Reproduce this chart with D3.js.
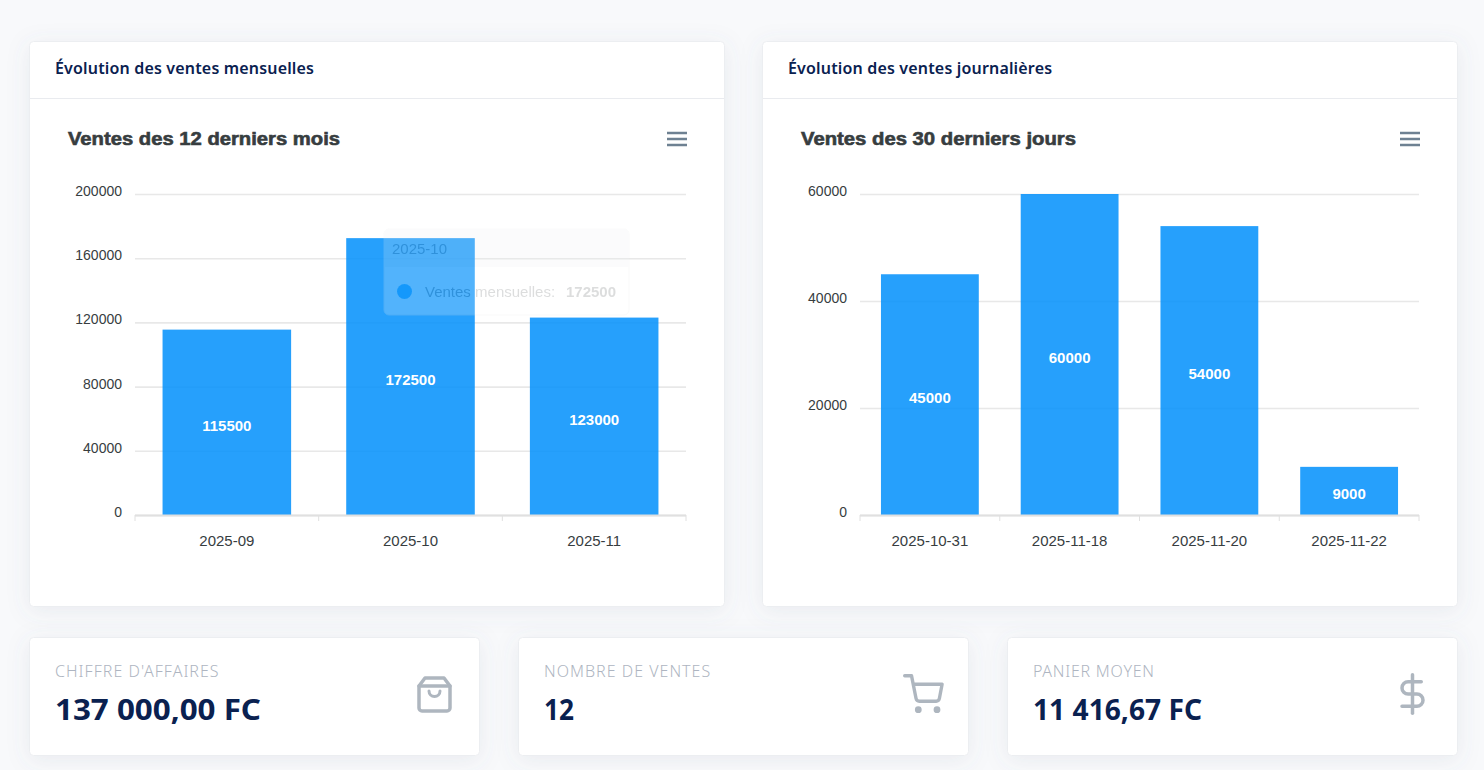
<!DOCTYPE html>
<html lang="fr">
<head>
<meta charset="utf-8">
<title>Tableau de bord des ventes</title>
<script src="https://cdnjs.cloudflare.com/ajax/libs/d3/7.9.0/d3.min.js"></script>
<style>
html, body { margin: 0; padding: 0; background: #f8f9fb; overflow: hidden; }
svg { display: block; }
.ui { font-family: "Noto Sans", sans-serif; }
.chart text { font-family: "Liberation Sans", Arial, sans-serif; }
</style>
</head>
<body>
<div id="root"></div>
<script>
// Monthly sales
const monthCategories = ["2025-09", "2025-10", "2025-11"];
const monthValues = [115500, 172500, 123000];
const monthTicks = [0, 40000, 80000, 120000, 160000, 200000];

// Daily sales
const dayCategories = ["2025-10-31", "2025-11-18", "2025-11-20", "2025-11-22"];
const dayValues = [45000, 60000, 54000, 9000];
const dayTicks = [0, 20000, 40000, 60000];

// Summary figures
const kpiLabels = ["CHIFFRE D'AFFAIRES", "NOMBRE DE VENTES", "PANIER MOYEN"];
const kpiValues = ["137 000,00 FC", "12", "11 416,67 FC"];

const W = 1484, H = 770;
const svg = d3.select("#root").append("svg").attr("width", W).attr("height", H);

const defs = svg.append("defs");
const shadow = defs.append("filter").attr("id", "cardShadow")
  .attr("x", "-10%").attr("y", "-15%").attr("width", "120%").attr("height", "135%");
shadow.append("feDropShadow").attr("dx", 0).attr("dy", 4).attr("stdDeviation", 11)
  .attr("flood-color", "#5a6a85").attr("flood-opacity", 0.10);

function card(x, y, w, h) {
  svg.append("rect").attr("x", x - .5).attr("y", y - .5).attr("width", w + 1).attr("height", h + 1)
    .attr("rx", 4).attr("fill", "#fff").attr("stroke", "#eceef1").attr("filter", "url(#cardShadow)");
}

function panel(x, y, w, h, heading) {
  card(x, y, w, h);
  svg.append("line").attr("x1", x).attr("x2", x + w).attr("y1", 98.5).attr("y2", 98.5).attr("stroke", "#e9ebef");
  svg.append("text").attr("class", "ui").attr("x", x + 25).attr("y", 74)
    .attr("font-size", 16).attr("font-weight", 600).attr("letter-spacing", 0.17)
    .attr("fill", "#0a2150").text(heading);
}

function barChart(opts) {
  const g = svg.append("g").attr("class", "chart");
  const { left, right, top, bottom, max, ticks, categories, values, title, labelRight, tickShift } = opts;

  const x = d3.scaleBand().domain(categories).range([left, right]).paddingInner(0).paddingOuter(0);
  const y = d3.scaleLinear().domain([0, max]).range([bottom, top]);

  // Horizontal grid
  const grid = g.append("g").attr("transform", `translate(${left},0)`)
    .call(d3.axisRight(y).tickValues(ticks).tickSize(right - left).tickFormat(""));
  grid.select(".domain").remove();
  grid.selectAll("line").attr("stroke", "#e8e8e8").attr("stroke-width", 1.6);

  // Value axis labels
  const yAxis = g.append("g").attr("transform", `translate(${labelRight},0)`)
    .call(d3.axisLeft(y).tickValues(ticks).tickSize(0).tickPadding(0).tickFormat(d3.format("d")));
  yAxis.select(".domain").remove();
  yAxis.selectAll("text").attr("font-size", 14).attr("fill", "#373d3f").attr("dy", tickShift);

  // Bars
  const barW = x.bandwidth() * 0.7;
  g.selectAll("rect.bar").data(values).join("rect").attr("class", "bar")
    .attr("x", (d, i) => x(categories[i]) + (x.bandwidth() - barW) / 2)
    .attr("width", barW)
    .attr("y", d => y(d))
    .attr("height", d => y(0) - y(d))
    .attr("fill", "#008ffb").attr("fill-opacity", 0.85);

  // Category axis with ticks on the band edges
  const xAxis = g.append("g").attr("transform", `translate(0,${bottom})`)
    .call(d3.axisBottom(x).tickSize(0).tickPadding(20));
  xAxis.select(".domain").remove();
  xAxis.selectAll("text").attr("font-size", 15).attr("fill", "#373d3f").attr("dy", "0.71em");
  g.append("line").attr("x1", left).attr("x2", right).attr("y1", bottom + .5).attr("y2", bottom + .5)
    .attr("stroke", "#e0e0e0").attr("stroke-width", 2);
  const edges = categories.map(c => x(c)).concat(right);
  g.selectAll("line.edge").data(edges).join("line").attr("class", "edge")
    .attr("x1", d => d).attr("x2", d => d).attr("y1", bottom).attr("y2", bottom + 6)
    .attr("stroke", "#e0e0e0");

  // Value labels inside the bars
  g.selectAll("text.value").data(values).join("text").attr("class", "value")
    .attr("x", (d, i) => x(categories[i]) + x.bandwidth() / 2)
    .attr("y", d => (y(d) + y(0)) / 2 + 8.5)
    .attr("text-anchor", "middle").attr("font-size", 15).attr("font-weight", 700)
    .attr("fill", "#fff").text(d => d);

  // Chart title, set wide and heavy
  g.append("text").attr("x", opts.titleX).attr("y", 145)
    .attr("font-size", 18).attr("font-weight", 700).attr("fill", "#373d3f")
    .attr("stroke", "#373d3f").attr("stroke-width", 0.6)
    .attr("textLength", opts.titleWidth).attr("lengthAdjust", "spacingAndGlyphs").text(title);

  // Toolbar menu glyph
  g.selectAll("line.menu").data([-6, 0, 6]).join("line").attr("class", "menu")
    .attr("x1", right - 19).attr("x2", right + 1)
    .attr("y1", d => 139 + d).attr("y2", d => 139 + d)
    .attr("stroke", "#6e8192").attr("stroke-width", 2.5);

  return { x, y, g };
}

panel(30, 42, 694, 564, "Évolution des ventes mensuelles");
panel(763, 42, 694, 564, "Évolution des ventes journalières");

barChart({
  left: 135, right: 686, top: 194, bottom: 515, max: 200000, ticks: monthTicks,
  categories: monthCategories, values: monthValues, title: "Ventes des 12 derniers mois",
  labelRight: 122, tickShift: "0.1em", titleX: 68, titleWidth: 272
});
barChart({
  left: 860, right: 1419, top: 194, bottom: 515, max: 60000, ticks: dayTicks,
  categories: dayCategories, values: dayValues, title: "Ventes des 30 derniers jours",
  labelRight: 847, tickShift: "0.12em", titleX: 801, titleWidth: 275
});

// Hover tooltip fading out above the October bar
(function tooltip() {
  const tx = 384, ty = 229, tw = 245, th = 86;
  const t = svg.append("g").attr("class", "chart").attr("opacity", 0.2);
  t.append("rect").attr("x", tx).attr("y", ty).attr("width", tw).attr("height", th).attr("rx", 5)
    .attr("fill", "#fff").attr("stroke", "#e3e3e3");
  t.append("path").attr("d", `M${tx} ${ty + 38}V${ty + 5}a5 5 0 0 1 5 -5H${tx + tw - 5}a5 5 0 0 1 5 5V${ty + 38}Z`)
    .attr("fill", "#eceff1");
  t.append("text").attr("x", tx + 8).attr("y", ty + 25).attr("font-size", 15).attr("fill", "#555a5c")
    .text(monthCategories[1]);
  t.append("text").attr("x", tx + 41).attr("y", ty + 68).attr("font-size", 15).attr("fill", "#555a5c")
    .text("Ventes mensuelles:");
  t.append("text").attr("x", tx + 182).attr("y", ty + 68).attr("font-size", 15).attr("font-weight", 700).attr("fill", "#555a5c")
    .text(monthValues[1]);
  svg.append("circle").attr("cx", tx + 20.5).attr("cy", ty + 62.5).attr("r", 7.5)
    .attr("fill", "#008ffb").attr("opacity", 0.75);
})();

// Summary cards
const kpiX = [30, 519, 1008];
const kpiSpan = [206, 30, 169];
kpiLabels.forEach((label, i) => {
  const x = kpiX[i];
  card(x, 638, 449, 117);
  svg.append("text").attr("class", "ui").attr("x", x + 25).attr("y", 677)
    .attr("font-size", 16).attr("font-weight", 300).attr("letter-spacing", i === 2 ? 0.75 : 1.02)
    .attr("fill", "#aeb5c1").text(label);
  svg.append("text").attr("class", "ui").attr("x", x + 25).attr("y", 720)
    .attr("font-size", 29).attr("font-weight", 700).attr("fill", "#0a2150")
    .attr("textLength", kpiSpan[i]).attr("lengthAdjust", "spacingAndGlyphs").text(kpiValues[i]);
});

// Card icons
const ink = { fill: "none", stroke: "#aeb6bf", "stroke-width": 3.5, "stroke-linecap": "round", "stroke-linejoin": "round" };
function icon(tr, build) {
  const g = svg.append("g").attr("transform", tr);
  Object.entries(ink).forEach(([k, v]) => g.attr(k, v));
  build(g);
  return g;
}
icon("translate(419,677)", g => {
  g.append("path").attr("d", "M0 9 L6 1 H25 L31 9 V31 a3 3 0 0 1 -3 3 H3 a3 3 0 0 1 -3 -3 Z");
  g.append("path").attr("d", "M0 9 H31");
  g.append("path").attr("d", "M10 14 a5.5 5.5 0 0 0 11 0").attr("stroke-width", 3);
});
icon("translate(903,674) scale(1.7)", g => {
  g.attr("stroke-width", 2);
  g.append("path").attr("d", "M1 1h4l2.68 13.39a2 2 0 0 0 2 1.61h9.72a2 2 0 0 0 2-1.61L23 6H6");
  g.append("circle").attr("cx", 9).attr("cy", 21).attr("r", 1);
  g.append("circle").attr("cx", 20).attr("cy", 21).attr("r", 1);
});
icon("translate(1391.5,673) scale(1.75)", g => {
  g.attr("stroke-width", 2);
  g.append("path").attr("d", "M12 1V23");
  g.append("path").attr("d", "M17 5H9.5a3.5 3.5 0 0 0 0 7h5a3.5 3.5 0 0 1 0 7H6");
});
</script>
</body>
</html>
